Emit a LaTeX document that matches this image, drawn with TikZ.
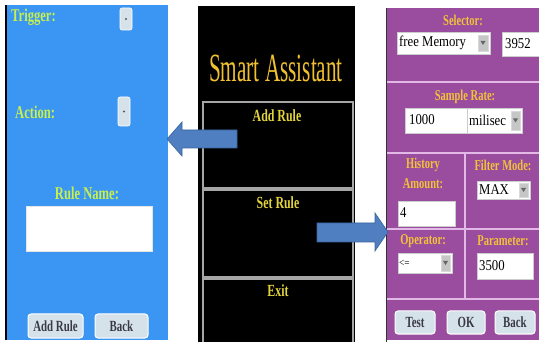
\documentclass[tikz,border=0pt]{standalone}
\usepackage{fontspec}
\setmainfont{Liberation Serif}
\newfontfamily\condfont[FakeStretch=0.7]{Liberation Serif Bold}
\newfontfamily\valfont[FakeStretch=0.85]{Liberation Serif}
\newfontfamily\titlefont[FakeStretch=0.53]{Liberation Serif}
\definecolor{bluebg}{HTML}{3B95F2}
\definecolor{limetxt}{HTML}{C6F04E}
\definecolor{midtxt}{HTML}{E2D43C}
\definecolor{titletxt}{HTML}{F0C030}
\definecolor{purplebg}{HTML}{9A4C9E}
\definecolor{goldtxt}{HTML}{F2C23A}
\definecolor{septxt}{HTML}{E2B8E6}
\definecolor{arrowfill}{HTML}{4F7FC0}
\definecolor{arrowline}{HTML}{3A64A0}
\definecolor{btnfill}{HTML}{D6E2EA}
\definecolor{btntext}{HTML}{3A3A44}
\tikzset{
  lbl/.style={font=\condfont\fontsize{18}{18}\selectfont, text=limetxt, inner sep=0pt},
  menutxt/.style={font=\condfont\fontsize{17}{17}\selectfont, text=midtxt, inner sep=0pt},
  ptxt/.style={font=\condfont\fontsize{15}{15}\selectfont, text=goldtxt, inner sep=0pt},
  val/.style={font=\valfont\fontsize{15}{15}\selectfont, text=black, inner sep=0pt, anchor=west},
  btnbox/.style={fill=btnfill, draw=white, line width=1pt, rounded corners=3pt},
  btnlbl/.style={font=\condfont\fontsize{15.5}{15.5}\selectfont, text=btntext, inner sep=0pt},
  field/.style={fill=white, draw=gray!40, line width=0.5pt},
  ddarrow/.style={fill=gray!45, draw=gray!30},
  sep/.style={draw=septxt, line width=2pt},
  blockarrow/.style={fill=arrowfill, draw=arrowline, line width=0.6pt},
  menubox/.style={draw=gray!70, line width=1.2pt},
}
\begin{document}
\begin{tikzpicture}[x=1pt,y=-1pt]
\useasboundingbox (0,0) rectangle (539,342);
\fill[white] (0,0) rectangle (539,342);
% ---------- left panel ----------
\fill[bluebg] (5,5) rectangle (168,340);
\draw[black, line width=2pt] (6,5) -- (6,340);
\node[lbl, anchor=west] (trig) at (11,17) {Trigger:};
\draw[btnbox, rounded corners=2pt, line width=0.6pt] (120,8) rectangle (132,30);
\fill[gray!70!black] (126,19) circle (1.2);
\node[lbl, anchor=west] (act) at (15,112) {Action:};
\draw[btnbox, rounded corners=2pt, line width=0.6pt] (118,97) rectangle (130,126);
\fill[gray!70!black] (124,111.5) circle (1.2);
\node[lbl] (rname) at (87,193) {Rule Name:};
\draw[field, draw=gray!20] (26,206) rectangle (152,251);
\draw[btnbox] (28,314) rectangle (83,338);
\node[btnlbl] (addbtn) at (55.5,326) {Add Rule};
\draw[btnbox] (95,314) rectangle (148,338);
\node[btnlbl] (backl) at (121.5,326) {Back};
% ---------- middle panel ----------
\fill[black] (198,6) rectangle (355,342);
\node[font=\titlefont\fontsize{40}{40}\selectfont, text=titletxt, inner sep=0pt] (title) at (276,68) {Smart Assistant};
\draw[menubox] (203,102) rectangle (353,188);
\draw[menubox] (203,190) rectangle (353,277);
\draw[menubox] (203,279) rectangle (353,346);
\node[menutxt] (m1) at (277,116) {Add Rule};
\node[menutxt] (m2) at (278,203) {Set Rule};
\node[menutxt] (m3) at (278,291) {Exit};
% ---------- right panel ----------
\fill[purplebg] (387,8) rectangle (539,340);
\draw[gray!40!black, line width=1pt] (386,8) -- (386,342);
\draw[sep] (387,82) -- (539,82);
\draw[sep] (387,153) -- (539,153);
\draw[sep] (387,229) -- (539,229);
\draw[sep] (387,299) -- (539,299);
\draw[sep] (465,153) -- (465,299);
\node[ptxt] (sel) at (463,20) {Selector:};
\draw[field] (397,32) rectangle (490,54);
\node[val] (fm) at (399,43) {free Memory};
\draw[ddarrow] (478,35) rectangle (488,51);
\fill[gray!80!black] (480.5,41) -- (485.5,41) -- (483,45) -- cycle;
\draw[field] (502,32) rectangle (545,56);
\node[val] (v3952) at (505,44) {3952};
\node[ptxt] (srate) at (465,97) {Sample Rate:};
\draw[field] (405,108) rectangle (467,133);
\node[val] (v1000) at (409,120) {1000};
\draw[field] (467,108) rectangle (522,133);
\node[val] (ms) at (469,120) {milisec};
\draw[ddarrow] (511,111) rectangle (520,130);
\fill[gray!80!black] (513,118.5) -- (518,118.5) -- (515.5,122.5) -- cycle;
\node[ptxt] (hist) at (423,165) {History};
\node[ptxt] (amt) at (423,184) {Amount:};
\node[ptxt] (fmode) at (503,165) {Filter Mode:};
\draw[field] (477,181) rectangle (530,199);
\node[val] (vmax) at (479,190) {MAX};
\draw[ddarrow] (519,183) rectangle (528,197);
\fill[gray!80!black] (521,188) -- (526,188) -- (523.5,192) -- cycle;
\draw[field] (398,201) rectangle (455,226);
\node[val] (v4) at (400,213) {4};
\node[ptxt] (op) at (423,241) {Operator:};
\node[ptxt] (par) at (503,241) {Parameter:};
\draw[field] (398,253) rectangle (452,273);
\node[val, font=\valfont\fontsize{11}{11}\selectfont] (vle) at (399,263) {<=};
\draw[ddarrow] (441,255) rectangle (450,271);
\fill[gray!80!black] (443,261) -- (448,261) -- (445.5,265) -- cycle;
\draw[field] (477,253) rectangle (533,279);
\node[val] (v3500) at (479,266) {3500};
\draw[btnbox] (395,311) rectangle (435,334);
\node[btnlbl] (test) at (415,322.5) {Test};
\draw[btnbox] (447,311) rectangle (485,334);
\node[btnlbl] (ok) at (466,322.5) {OK};
\draw[btnbox] (495,311) rectangle (535,334);
\node[btnlbl] (backr) at (515,322.5) {Back};
% ---------- block arrows ----------
\coordinate (a1tip) at (167,139);
\draw[blockarrow] (a1tip) -- (182,122) -- (182,130) -- (237,130) -- (237,148) -- (182,148) -- (182,156) -- cycle;
\coordinate (a2tip) at (388,232);
\draw[blockarrow] (a2tip) -- (375,213) -- (375,223) -- (317,223) -- (317,242) -- (375,242) -- (375,251) -- cycle;
\end{tikzpicture}
\end{document}
